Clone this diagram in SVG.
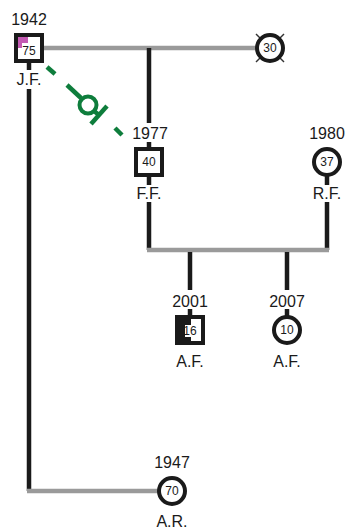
<svg xmlns="http://www.w3.org/2000/svg" width="345" height="530" viewBox="0 0 345 530">
<style>
.lbl{font-family:"Liberation Sans",Arial,sans-serif;font-size:16px;fill:#1a1a1a;text-anchor:middle}
.age{font-family:"Liberation Sans",Arial,sans-serif;font-size:12px;fill:#1a1a1a;text-anchor:middle}
.blk{stroke:#1a1a1a;stroke-width:4.5;fill:none}
.gry{stroke:#9a9a9a;stroke-width:4.5;fill:none}
.nd{stroke:#1a1a1a;stroke-width:4;fill:#fff}
.grn{stroke:#0e7d3c;stroke-width:4.5;fill:none}
</style>
<rect width="345" height="530" fill="#fff"/>
<g id="connectors">
  <line class="gry" x1="43" y1="48" x2="256" y2="48"/>
  <line class="blk" x1="149" y1="48" x2="149" y2="123"/>
  <line class="blk" x1="149" y1="142" x2="149" y2="148"/>
  <line class="blk" x1="29" y1="62" x2="29" y2="70"/>
  <line class="blk" x1="29" y1="89" x2="29" y2="491"/>
  <line class="gry" x1="27" y1="491" x2="158" y2="491"/>
  <line class="blk" x1="149" y1="175" x2="149" y2="185"/>
  <line class="blk" x1="327" y1="175" x2="327" y2="185"/>
  <line class="blk" x1="149" y1="202" x2="149" y2="250"/>
  <line class="blk" x1="327" y1="202" x2="327" y2="250"/>
  <line class="gry" x1="147" y1="250" x2="329" y2="250"/>
  <line class="blk" x1="190" y1="252" x2="190" y2="290"/>
  <line class="blk" x1="287" y1="252" x2="287" y2="290"/>
  <line class="blk" x1="190" y1="309" x2="190" y2="316"/>
  <line class="blk" x1="287" y1="309" x2="287" y2="316"/>
  <g id="relationship">
    <line class="grn" x1="47" y1="67" x2="55" y2="74"/>
    <line class="grn" x1="67" y1="85" x2="81" y2="98"/>
    <circle cx="88" cy="105" r="8.5" stroke="#0e7d3c" stroke-width="4" fill="#fff"/>
    <line class="grn" x1="94" y1="111" x2="99" y2="115"/>
    <line class="grn" x1="107" y1="106" x2="91" y2="124"/>
    <line class="grn" x1="115" y1="128" x2="122" y2="135"/>
  </g>
</g>
<g id="jf">
  <text class="lbl" x="29" y="25">1942</text>
  <rect class="nd" x="16" y="35" width="26" height="26"/>
  <path d="M18 37h10v6h-6v5h-4z" fill="#c45ab3"/>
  <text class="age" x="29" y="55">75</text>
  <text class="lbl" x="29" y="85">J.F.</text>
</g>
<g id="p30">
  <g stroke="#333" stroke-width="1.4">
    <line x1="256" y1="34" x2="284" y2="62"/>
    <line x1="284" y1="34" x2="256" y2="62"/>
  </g>
  <circle class="nd" cx="270" cy="48" r="13"/>
  <text class="age" x="270" y="52">30</text>
</g>
<g id="ff">
  <text class="lbl" x="150" y="139">1977</text>
  <rect class="nd" x="136" y="149" width="26" height="26"/>
  <text class="age" x="149" y="166">40</text>
  <text class="lbl" x="149" y="199">F.F.</text>
</g>
<g id="rf">
  <text class="lbl" x="327" y="139">1980</text>
  <circle class="nd" cx="327" cy="162" r="13"/>
  <text class="age" x="327" y="166">37</text>
  <text class="lbl" x="327" y="199">R.F.</text>
</g>
<g id="af1">
  <text class="lbl" x="190" y="307">2001</text>
  <rect class="nd" x="177" y="317" width="26" height="26"/>
  <rect x="177" y="317" width="14" height="26" fill="#1a1a1a"/>
  <rect x="185" y="325" width="11" height="12" fill="#fff"/>
  <text class="age" x="190" y="335">16</text>
  <text class="lbl" x="190" y="367">A.F.</text>
</g>
<g id="af2">
  <text class="lbl" x="287" y="307">2007</text>
  <circle class="nd" cx="287" cy="330" r="13"/>
  <text class="age" x="287" y="334">10</text>
  <text class="lbl" x="287" y="367">A.F.</text>
</g>
<g id="ar">
  <text class="lbl" x="172" y="468">1947</text>
  <circle class="nd" cx="172" cy="491" r="13"/>
  <text class="age" x="172" y="495">70</text>
  <text class="lbl" x="172" y="527">A.R.</text>
</g>
</svg>
